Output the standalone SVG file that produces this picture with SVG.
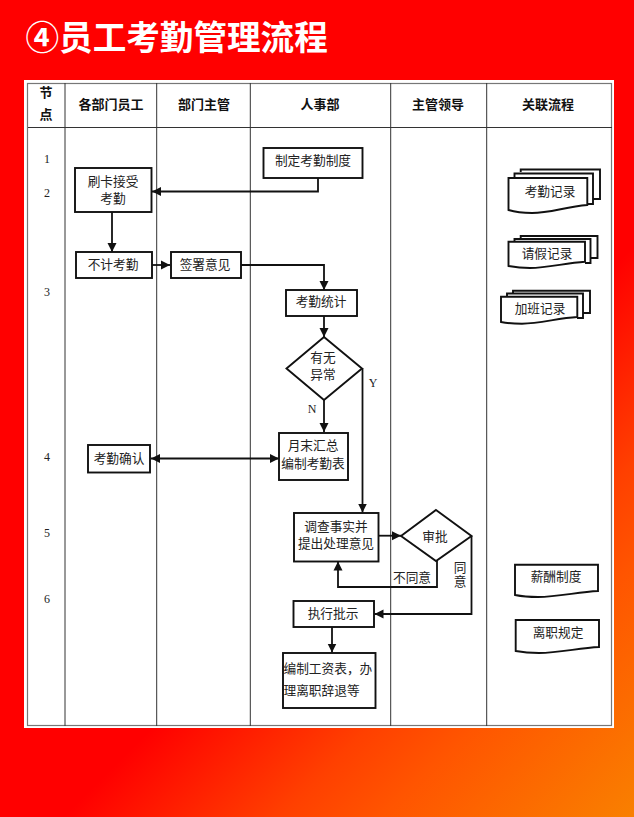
<svg xmlns="http://www.w3.org/2000/svg" width="634" height="817" viewBox="0 0 634 817">
<style>
text{font-family:"Noto Sans CJK SC","Noto Sans",sans-serif;font-size:12.7px;fill:#222;text-anchor:middle}
.title{font-size:33.6px;font-weight:700;fill:#fff;text-anchor:start}
.head{font-weight:700;font-size:13px;fill:#111}
.num{font-family:"Liberation Serif",serif;font-size:12px}
.left{text-anchor:start}
.grid{stroke:#333;stroke-width:1;fill:none}
.box{fill:#fff;stroke:#111;stroke-width:1.9}
.con{fill:none;stroke:#111;stroke-width:1.8}
</style>
<defs>
<linearGradient id="bg" gradientUnits="userSpaceOnUse" x1="440" y1="440" x2="725.5" y2="725.5">
<stop offset="0" stop-color="#ff0000"/><stop offset="0.38" stop-color="#ff4000"/><stop offset="0.56" stop-color="#ff5500"/><stop offset="1" stop-color="#f98000"/>
</linearGradient>
<marker id="arr" markerUnits="userSpaceOnUse" markerWidth="10" markerHeight="10" refX="9" refY="5" orient="auto-start-reverse"><path d="M0 0.5L9 5L0 9.5Z" fill="#111"/></marker>
</defs>
<rect width="634" height="817" fill="url(#bg)"/>
<text class="title" x="25.5" y="50">④员工考勤管理流程</text>
<g id="table">
<rect x="24" y="80" width="590" height="648" fill="#fff"/>
<rect x="27.5" y="83.5" width="584" height="642" fill="#fff" stroke="#777" stroke-width="1.2"/>
<path class="grid" d="M65 83V726M156.7 83V726M250.3 83V726M390.7 83V726M486.7 83V726M28 127.5H612"/>
<text class="head" x="46"><tspan x="46" y="97">节</tspan><tspan x="46" y="119">点</tspan></text>
<text class="head" x="111" y="109">各部门员工</text>
<text class="head" x="204" y="109">部门主管</text>
<text class="head" x="320" y="109">人事部</text>
<text class="head" x="438" y="109">主管领导</text>
<text class="head" x="548" y="109">关联流程</text>
<text class="num" x="47" y="163">1</text><text class="num" x="47" y="197">2</text><text class="num" x="47" y="296">3</text><text class="num" x="47" y="461">4</text><text class="num" x="47" y="537">5</text><text class="num" x="47" y="603">6</text>
</g>
<g id="connectors">
<path class="con" d="M318 178V191.5H152" marker-end="url(#arr)"/>
<path class="con" d="M112 212V252" marker-end="url(#arr)"/>
<path class="con" d="M152 265H170" marker-end="url(#arr)"/>
<path class="con" d="M241 265H324V290" marker-end="url(#arr)"/>
<path class="con" d="M324 316V337" marker-end="url(#arr)"/>
<path class="con" d="M324 400V432" marker-end="url(#arr)"/>
<path class="con" d="M362.5 368V512.5" marker-end="url(#arr)"/>
<path class="con" d="M151 458.5H279" marker-start="url(#arr)" marker-end="url(#arr)"/>
<path class="con" d="M378 535.7H401" marker-end="url(#arr)"/>
<path class="con" d="M437 561V587H338V561.5" marker-end="url(#arr)"/>
<path class="con" d="M471.5 536V614H374.5" marker-end="url(#arr)"/>
<path class="con" d="M332 627V652.5" marker-end="url(#arr)"/>
<text x="373" y="387" class="num">Y</text>
<text x="312" y="413" class="num">N</text>
<text x="412" y="582">不同意</text>
<text><tspan x="460" y="572">同</tspan><tspan x="460" y="586">意</tspan></text>
</g>
<g id="n1"><rect class="box" x="263.5" y="148" width="99" height="30"/><text x="313" y="165">制定考勤制度</text></g>
<g id="n2"><rect class="box" x="75" y="168" width="76.5" height="44"/><text><tspan x="113" y="186">刷卡接受</tspan><tspan x="113" y="203">考勤</tspan></text></g>
<g id="n3"><rect class="box" x="76" y="252" width="76" height="26"/><text x="113" y="269">不计考勤</text></g>
<g id="n4"><rect class="box" x="171" y="252" width="70" height="26"/><text x="205" y="269">签署意见</text></g>
<g id="n5"><rect class="box" x="286" y="290" width="71" height="26"/><text x="321" y="306">考勤统计</text></g>
<g id="n6"><path class="box" d="M324 337L362 368.5L324 400L286.5 368.5Z"/><text><tspan x="323" y="362">有无</tspan><tspan x="323" y="379">异常</tspan></text></g>
<g id="n7"><rect class="box" x="279" y="433" width="69" height="47"/><text><tspan x="313" y="450">月末汇总</tspan><tspan x="313" y="468">编制考勤表</tspan></text></g>
<g id="n8"><rect class="box" x="88" y="445" width="62" height="27.5"/><text x="119" y="463">考勤确认</text></g>
<g id="n9"><rect class="box" x="294" y="513" width="84.5" height="48.5"/><text><tspan x="336" y="531">调查事实并</tspan><tspan x="336" y="548">提出处理意见</tspan></text></g>
<g id="n10"><path class="box" d="M436 510L471.5 536L436 561L401 536Z"/><text x="435" y="541">审批</text></g>
<g id="n11"><rect class="box" x="293.5" y="601" width="80.5" height="26"/><text x="333" y="618">执行批示</text></g>
<g id="n12"><rect class="box" x="283" y="653" width="92.5" height="55"/><text class="left"><tspan class="left" x="283.5" y="673">编制工资表，办</tspan><tspan class="left" x="283.5" y="695">理离职辞退等</tspan></text></g>
<g id="d1">
<path class="box" d="M520.7 172V169.5H600V199H593"/>
<path class="box" d="M514.5 177V173.5H593V204H587"/>
<path class="box" d="M508.5 178H587.3V205C565 207 550 213 532 213C522 213 515 212 508.5 210Z"/>
<text x="550" y="196">考勤记录</text></g>
<g id="d2">
<path class="box" d="M520.7 239V236H597.5V258H590.5"/>
<path class="box" d="M514.5 241V239H590.5V263H585"/>
<path class="box" d="M508.5 241.7H585V261.7C565 263 548 268 530 268C520 268 514 267 508.5 266Z"/>
<text x="547" y="257.5">请假记录</text></g>
<g id="d3">
<path class="box" d="M513 293V290.7H590V313H583"/>
<path class="box" d="M507 296V293.5H583V318H577"/>
<path class="box" d="M501 296.7H577.3V317C558 318 540 323.7 522 323.7C512 323.7 506 323 501 322Z"/>
<text x="540" y="312.5">加班记录</text></g>
<g id="d4"><path class="box" d="M515 564.7H598V591C578 592 558 597 538 597C528 597 520 596 515 595Z"/><text x="556" y="581">薪酬制度</text></g>
<g id="d5"><path class="box" d="M515.7 620H599V647C579 648 559 653 539 653C529 653 521 652 515.7 651Z"/><text x="558" y="637">离职规定</text></g>
</svg>
